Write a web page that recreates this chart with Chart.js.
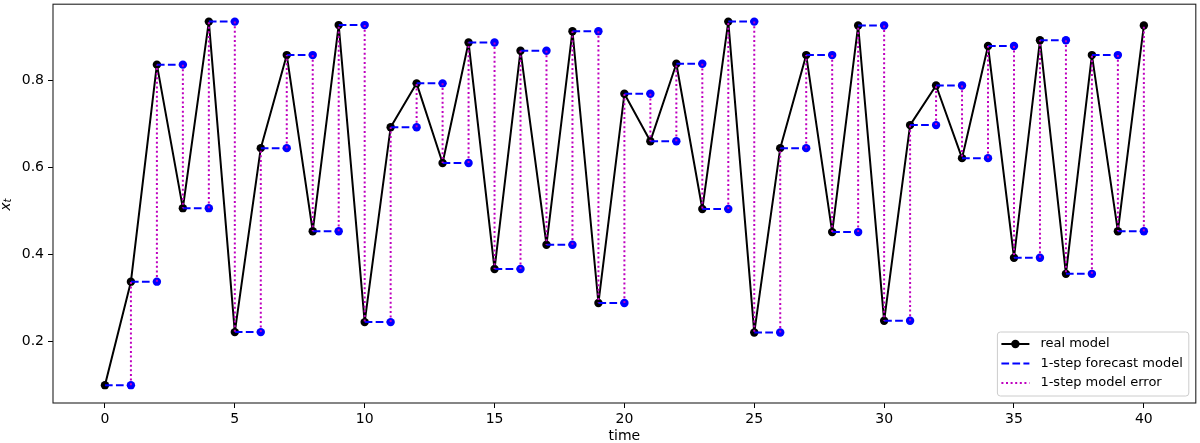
<!DOCTYPE html>
<html>
<head>
<meta charset="utf-8">
<title>1-step forecast</title>
<script src="https://cdn.jsdelivr.net/npm/chart.js"></script>
<style>
    html, body { margin: 0; padding: 0; background: #ffffff; }
    #wrap { width: 1200px; height: 443px; }
</style>
</head>
<body>
<div id="wrap"><canvas id="chart" width="1200" height="443"></canvas></div>
<script>
    // time steps and values
    const time = [0, 1, 2, 3, 4, 5, 6, 7, 8, 9, 10, 11, 12, 13, 14, 15, 16, 17, 18, 19, 20,
                  21, 22, 23, 24, 25, 26, 27, 28, 29, 30, 31, 32, 33, 34, 35, 36, 37, 38, 39, 40];
    const realModel = [0.100, 0.338, 0.837, 0.507, 0.936, 0.222, 0.645, 0.859, 0.454, 0.928,
                       0.245, 0.693, 0.794, 0.611, 0.888, 0.367, 0.869, 0.423, 0.914, 0.289,
                       0.770, 0.661, 0.839, 0.505, 0.936, 0.221, 0.645, 0.859, 0.452, 0.927,
                       0.248, 0.698, 0.789, 0.622, 0.880, 0.393, 0.893, 0.356, 0.859, 0.454,
                       0.927];
    const xTicks = [0, 5, 10, 15, 20, 25, 30, 35, 40];
    const yTicks = [0.2, 0.4, 0.6, 0.8];
    const seriesLabels = ['real model', '1-step forecast model', '1-step model error'];

    const FONT = 'DejaVu Sans';

    // forecast = previous value held one step; error = vertical gap at t+1
    const forecastPts = [];
    const errorPts = [];
    for (let i = 0; i < time.length - 1; i++) {
        forecastPts.push({x: time[i], y: realModel[i]}, {x: time[i + 1], y: realModel[i]}, {x: time[i + 1], y: null});
        errorPts.push({x: time[i + 1], y: realModel[i]}, {x: time[i + 1], y: realModel[i + 1]}, {x: time[i + 1], y: null});
    }

    // frame, y label and legend box like matplotlib
    const extras = {
        id: 'extras',
        afterDraw(chart) {
            const c = chart.ctx;
            const a = chart.chartArea;
            c.save();

            // frame
            c.strokeStyle = '#222222';
            c.lineWidth = 1.1;
            c.strokeRect(a.left, a.top, a.right - a.left, a.bottom - a.top);

            // y label x_t
            c.fillStyle = '#000000';
            c.translate(10, (a.top + a.bottom) / 2 + 1);
            c.rotate(-Math.PI / 2);
            c.textBaseline = 'alphabetic';
            c.textAlign = 'left';
            c.font = 'italic 14px "' + FONT + '"';
            const wx = c.measureText('x').width;
            c.font = 'italic 10px "' + FONT + '"';
            const wt = c.measureText('t').width;
            const sx = -(wx + wt) / 2;
            c.font = 'italic 14px "' + FONT + '"';
            c.fillText('x', sx, 0);
            c.font = 'italic 10px "' + FONT + '"';
            c.fillText('t', sx + wx, 1);
            c.setTransform(1, 0, 0, 1, 0, 0);

            // legend
            c.font = '13px "' + FONT + '"';
            let textW = 0;
            seriesLabels.forEach(l => { textW = Math.max(textW, c.measureText(l).width); });
            const boxR = a.right - 7;
            const boxB = a.bottom - 7;
            const boxW = 4 + 28 + 11 + textW + 6;
            const boxH = 64;
            const boxL = boxR - boxW;
            const boxT = boxB - boxH;
            const r = 3;
            c.beginPath();
            c.moveTo(boxL + r, boxT);
            c.arcTo(boxR, boxT, boxR, boxB, r);
            c.arcTo(boxR, boxB, boxL, boxB, r);
            c.arcTo(boxL, boxB, boxL, boxT, r);
            c.arcTo(boxL, boxT, boxR, boxT, r);
            c.closePath();
            c.fillStyle = 'rgba(255,255,255,0.8)';
            c.fill();
            c.strokeStyle = '#cccccc';
            c.lineWidth = 1;
            c.stroke();

            const ds = chart.data.datasets;
            const hx = boxL + 4;
            for (let i = 0; i < 3; i++) {
                const yy = boxT + 12 + i * 19.5;
                const d = ds[i];
                c.beginPath();
                c.setLineDash(d.borderDash || []);
                c.strokeStyle = d.borderColor;
                c.lineWidth = d.borderWidth;
                c.moveTo(hx, yy);
                c.lineTo(hx + 28, yy);
                c.stroke();
                c.setLineDash([]);
                if (i === 0) {
                    c.beginPath();
                    c.fillStyle = '#000000';
                    c.arc(hx + 14, yy, 4.2, 0, Math.PI * 2);
                    c.fill();
                }
                c.fillStyle = '#000000';
                c.textBaseline = 'middle';
                c.textAlign = 'left';
                c.fillText(seriesLabels[i], hx + 39, yy);
            }
            c.restore();
        }
    };

    const ctx = document.getElementById('chart').getContext('2d');
    const chart = new Chart(ctx, {
        type: 'line',
        data: {
            datasets: [{
                label: seriesLabels[0],
                data: time.map((t, i) => ({x: t, y: realModel[i]})),
                borderColor: '#000000',
                borderWidth: 2,
                borderJoinStyle: 'round',
                pointRadius: 4.2,
                pointBackgroundColor: '#000000',
                pointBorderWidth: 0,
                tension: 0,
                order: 3
            }, {
                label: seriesLabels[1],
                data: forecastPts,
                borderColor: '#0000ff',
                borderWidth: 2,
                borderDash: [7.7, 3.3],
                pointRadius: c => (c.dataIndex % 3 === 1 ? 4.2 : 0),
                pointBackgroundColor: '#0000ff',
                pointBorderWidth: 0,
                spanGaps: false,
                tension: 0,
                order: 2
            }, {
                label: seriesLabels[2],
                data: errorPts,
                borderColor: '#bf00bf',
                borderWidth: 2,
                borderDash: [2, 2.6],
                pointRadius: 0,
                spanGaps: false,
                tension: 0,
                order: 1
            }]
        },
        options: {
            responsive: false,
            animation: false,
            devicePixelRatio: 1,
            layout: { padding: { top: 2, right: 1, left: 0, bottom: 0 } },
            plugins: {
                legend: { display: false },
                tooltip: { enabled: false }
            },
            scales: {
                x: {
                    type: 'linear',
                    min: -2,
                    max: 42,
                    afterBuildTicks: s => { s.ticks = xTicks.map(v => ({value: v})); },
                    afterFit: s => { s.height = 40; s.paddingLeft = 0; s.paddingRight = 0; },
                    ticks: {
                        color: '#000000',
                        font: { family: FONT, size: 14 },
                        padding: 3,
                        maxRotation: 0,
                        autoSkip: false
                    },
                    grid: { drawOnChartArea: false, drawTicks: true, tickLength: 5, color: '#000000' },
                    border: { display: false },
                    title: {
                        display: true,
                        text: 'time',
                        color: '#000000',
                        font: { family: FONT, size: 14 },
                        padding: { top: 0, bottom: -2 }
                    }
                },
                y: {
                    type: 'linear',
                    min: 0.059,
                    max: 0.976,
                    afterBuildTicks: s => { s.ticks = yTicks.map(v => ({value: v})); },
                    afterFit: s => { s.width = 53; s.paddingTop = 0; s.paddingBottom = 0; },
                    ticks: {
                        color: '#000000',
                        font: { family: FONT, size: 14 },
                        padding: 4,
                        callback: v => v.toFixed(1)
                    },
                    grid: { drawOnChartArea: false, drawTicks: true, tickLength: 5, color: '#000000' },
                    border: { display: false }
                }
            }
        },
        plugins: [extras]
    });
</script>
</body>
</html>
